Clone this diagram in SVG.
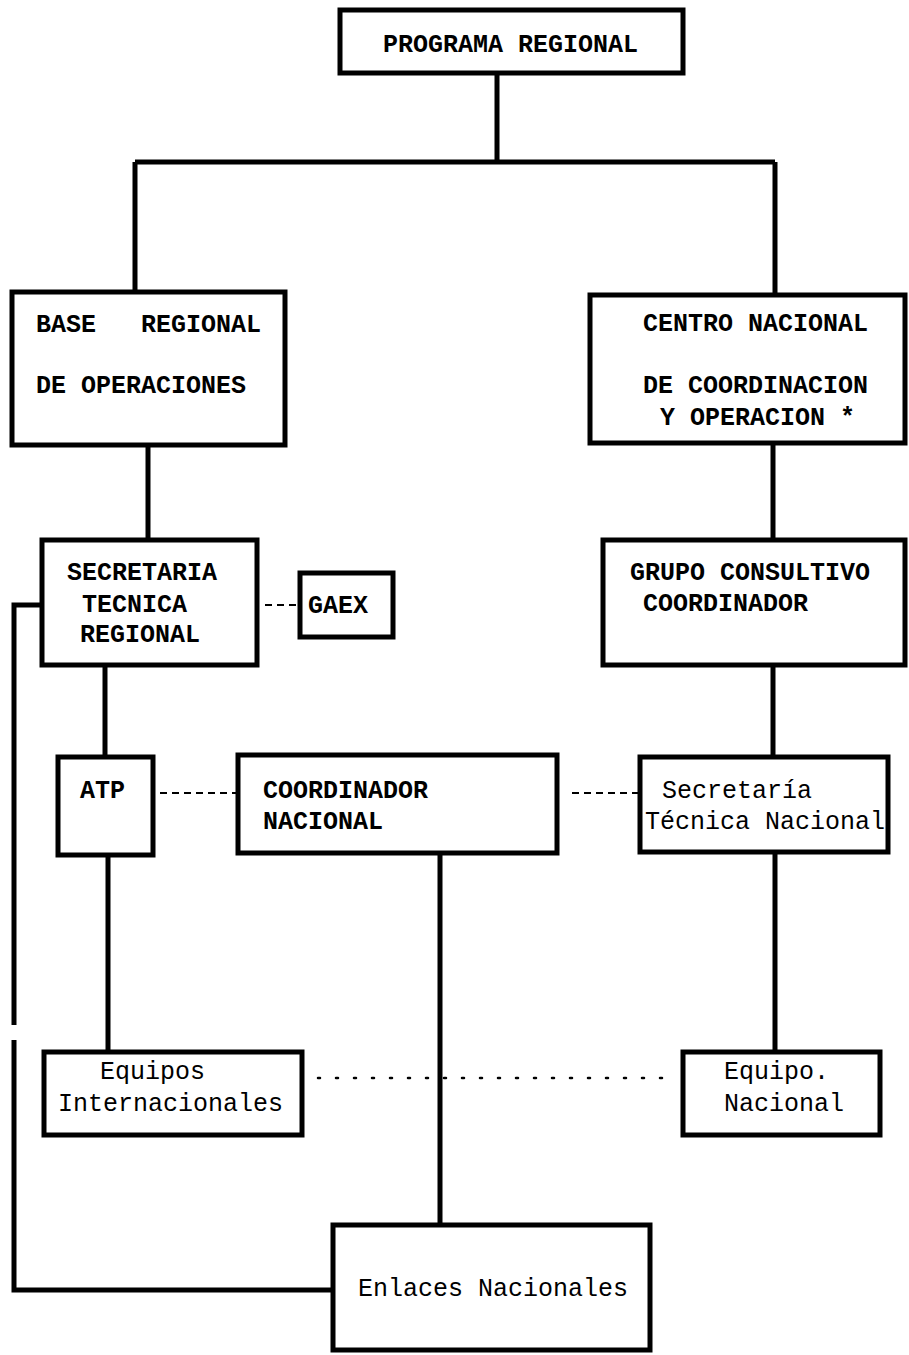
<svg xmlns="http://www.w3.org/2000/svg" width="909" height="1355" viewBox="0 0 909 1355">
<style>
.box{fill:#fff;stroke:#000;stroke-width:5}
.ln{fill:none;stroke:#000;stroke-width:5}
.dash{fill:none;stroke:#000;stroke-width:2;stroke-dasharray:7 5}
.dot{fill:none;stroke:#000;stroke-width:2.5;stroke-dasharray:2 16;stroke-linecap:round}
text{font-family:"Liberation Mono","Courier New",monospace;font-size:25px;font-weight:bold;fill:#000}
.lc{font-weight:normal}
</style>
<rect width="909" height="1355" fill="#fff"/>
<g id="connectors">
<path class="ln" d="M497 73 V162 M135 162 H775 M135 162 V290 M775 162 V295"/>
<path class="ln" d="M148 445 V540"/>
<path class="ln" d="M773 443 V540"/>
<path class="ln" d="M105 665 V757"/>
<path class="ln" d="M773 665 V757"/>
<path class="ln" d="M108 855 V1052"/>
<path class="ln" d="M775 852 V1052"/>
<path class="ln" d="M440 853 V1225"/>
<path class="ln" d="M42 605 H14 V1025 M14 1040 V1290 H333"/>
<path class="dash" d="M265 605 H298"/>
<path class="dash" d="M160 793 H238"/>
<path class="dash" d="M572 793 H640"/>
<path class="dot" d="M318 1078 H675"/>
</g>
<g id="programa-regional">
<rect class="box" x="340" y="10" width="343" height="63"/>
<text x="383" y="52">PROGRAMA REGIONAL</text>
</g>
<g id="base-regional">
<rect class="box" x="12" y="292" width="273" height="153"/>
<text x="36" y="332" xml:space="preserve">BASE   REGIONAL</text>
<text x="36" y="393">DE OPERACIONES</text>
</g>
<g id="centro-nacional">
<rect class="box" x="590" y="295" width="315" height="148"/>
<text x="643" y="331">CENTRO NACIONAL</text>
<text x="643" y="393">DE COORDINACION</text>
<text x="660" y="425">Y OPERACION *</text>
</g>
<g id="secretaria-tecnica-regional">
<rect class="box" x="42" y="540" width="215" height="125"/>
<text x="67" y="580">SECRETARIA</text>
<text x="82" y="612">TECNICA</text>
<text x="80" y="642">REGIONAL</text>
</g>
<g id="gaex">
<rect class="box" x="300" y="573" width="93" height="64"/>
<text x="308" y="613">GAEX</text>
</g>
<g id="grupo-consultivo">
<rect class="box" x="603" y="540" width="302" height="125"/>
<text x="630" y="580">GRUPO CONSULTIVO</text>
<text x="643" y="611">COORDINADOR</text>
</g>
<g id="atp">
<rect class="box" x="58" y="757" width="95" height="98"/>
<text x="80" y="798">ATP</text>
</g>
<g id="coordinador-nacional">
<rect class="box" x="238" y="755" width="319" height="98"/>
<text x="263" y="798">COORDINADOR</text>
<text x="263" y="829">NACIONAL</text>
</g>
<g id="secretaria-tecnica-nacional">
<rect class="box" x="640" y="757" width="248" height="95"/>
<text class="lc" x="662" y="798">Secretaría</text>
<text class="lc" x="645" y="829">Técnica Nacional</text>
</g>
<g id="equipos-internacionales">
<rect class="box" x="44" y="1052" width="258" height="83"/>
<text class="lc" x="100" y="1079">Equipos</text>
<text class="lc" x="58" y="1111">Internacionales</text>
</g>
<g id="equipo-nacional">
<rect class="box" x="683" y="1052" width="197" height="83"/>
<text class="lc" x="724" y="1079">Equipo.</text>
<text class="lc" x="724" y="1111">Nacional</text>
</g>
<g id="enlaces-nacionales">
<rect class="box" x="333" y="1225" width="317" height="125"/>
<text class="lc" x="358" y="1296">Enlaces Nacionales</text>
</g>
</svg>
